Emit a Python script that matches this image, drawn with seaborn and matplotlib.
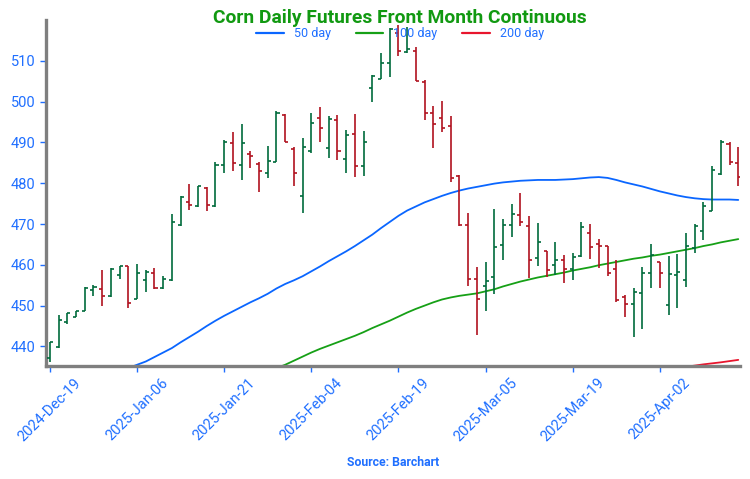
import matplotlib
matplotlib.use('Agg')
import matplotlib.pyplot as plt
import numpy as np
import pandas as pd
import seaborn as sns
from matplotlib.lines import Line2D

# OHLC values per trading day (index 0 = 2024-Dec-19)
opens = [437.2, 439.8, 446.1, 447.3, 448.7, 453.8, 454.1, 452.4, 457.5, 459.7,
         451.7, 456.3, 457.9, 454.2, 456.3, 469.7, 475.4, 474.3, 478.9, 474.3,
         484.5, 489.8, 484.5, 487.2, 484.7, 482.6, 485.2, 496.8, 488.3, 476.9,
         487.8, 495.9, 488.6, 495.5, 485.9, 492.1, 484.1, 503.3, 505.5, 509.4,
         516.8, 512.1, 512.5, 504.9, 497.2, 496.0, 493.9, 481.8, 469.8, 456.5,
         454.7, 457.1, 464.9, 469.8, 472.3, 469.6, 461.6, 463.3, 460.0, 461.2,
         458.9, 462.2, 467.8, 465.1, 464.5, 459.0, 452.1, 450.4, 453.2, 458.0,
         460.6, 450.2, 457.6, 456.3, 464.1, 468.4, 473.3, 482.3, 489.7, 485.0]
highs = [441.2, 447.6, 448.3, 448.8, 454.5, 455.0, 458.7, 459.1, 459.7, 459.8,
         460.3, 458.7, 459.3, 457.3, 472.5, 476.8, 479.8, 479.4, 479.0, 485.3,
         490.6, 492.5, 494.6, 487.8, 485.1, 489.2, 497.6, 497.0, 488.8, 491.1,
         497.3, 498.6, 496.5, 496.6, 493.1, 497.0, 492.7, 506.6, 512.0, 518.0,
         518.8, 518.4, 513.5, 505.3, 499.0, 500.2, 496.4, 482.0, 472.8, 459.4,
         460.6, 473.6, 471.2, 475.0, 477.6, 472.0, 470.2, 463.5, 465.6, 462.4,
         463.0, 470.4, 470.0, 466.3, 464.6, 461.1, 452.6, 454.3, 459.4, 465.1,
         460.8, 462.2, 462.7, 467.9, 470.0, 475.5, 484.1, 490.6, 490.2, 488.8]
lows = [436.1, 439.7, 445.5, 447.1, 448.7, 452.3, 449.9, 452.2, 456.5, 449.5,
        451.5, 453.4, 454.0, 454.0, 456.1, 469.5, 473.5, 474.1, 473.2, 474.1,
        482.6, 482.9, 480.7, 483.7, 477.8, 481.2, 485.2, 490.0, 479.4, 472.8,
        487.5, 490.0, 486.3, 485.7, 482.5, 481.6, 481.8, 499.8, 505.5, 506.0,
        511.2, 511.9, 505.0, 495.5, 488.6, 492.5, 480.2, 469.4, 454.9, 442.8,
        448.7, 452.9, 461.2, 466.8, 469.4, 456.7, 459.8, 456.9, 457.5, 455.5,
        456.2, 462.0, 461.4, 459.2, 457.3, 451.0, 447.3, 442.3, 444.2, 454.3,
        454.3, 447.7, 449.4, 454.5, 463.0, 466.1, 473.3, 482.1, 484.5, 479.3]
closes = [441.1, 446.5, 448.1, 448.7, 454.2, 454.6, 452.4, 458.9, 459.7, 450.7,
          457.9, 458.3, 454.2, 456.5, 470.5, 476.7, 474.6, 479.2, 474.6, 484.5,
          490.1, 484.9, 489.8, 486.7, 483.1, 485.5, 497.3, 490.2, 482.5, 488.8,
          494.7, 493.5, 495.7, 487.8, 491.9, 484.3, 490.2, 506.3, 509.4, 517.8,
          512.3, 512.9, 505.1, 497.3, 494.6, 493.5, 481.3, 469.8, 456.5, 451.6,
          456.1, 464.3, 469.8, 472.4, 470.6, 461.2, 465.7, 458.8, 461.2, 458.9,
          462.0, 469.2, 464.3, 464.7, 458.0, 451.3, 450.4, 453.4, 457.9, 462.4,
          458.1, 457.8, 458.2, 464.7, 469.4, 474.3, 483.3, 490.2, 485.2, 481.5]

# moving averages (first index where each line is drawn)
ma50_start = 9
ma50 = [434.7, 435.5, 436.3, 437.4, 438.5, 439.6, 441.0, 442.3, 443.6, 445.0,
        446.3, 447.5, 448.6, 449.7, 450.8, 451.8, 452.9, 454.2, 455.3, 456.2,
        457.2, 458.4, 459.6, 460.9, 462.1, 463.3, 464.6, 466.0, 467.4, 469.0,
        470.5, 472.0, 473.3, 474.3, 475.3, 476.1, 476.9, 477.6, 478.2, 478.7,
        479.1, 479.5, 479.9, 480.2, 480.4, 480.6, 480.7, 480.8, 480.8, 480.8,
        480.9, 481.0, 481.2, 481.4, 481.5, 481.3, 480.8, 480.2, 479.7, 479.2,
        478.6, 478.0, 477.5, 477.0, 476.6, 476.3, 476.1, 476.0, 476.0, 476.0,
        475.9]
ma100_start = 26
ma100 = [434.7, 435.5, 436.5, 437.5, 438.5, 439.4, 440.2, 441.0, 441.8, 442.6,
         443.5, 444.5, 445.4, 446.3, 447.3, 448.3, 449.2, 450.0, 450.8, 451.5,
         452.0, 452.4, 452.7, 453.0, 453.5, 454.0, 454.7, 455.3, 455.9, 456.4,
         456.9, 457.3, 457.7, 458.1, 458.6, 459.0, 459.4, 459.9, 460.3, 460.7,
         461.1, 461.5, 461.8, 462.2, 462.5, 462.9, 463.3, 463.7, 464.1, 464.6,
         465.0, 465.5, 465.9, 466.3]
ma200_start = 73
ma200 = [435.0, 435.3, 435.6, 435.85, 436.1, 436.4, 436.7]

tick_pos = [0, 10, 20, 30, 40, 50, 60, 70]
tick_labels = ['2024-Dec-19', '2025-Jan-06', '2025-Jan-21', '2025-Feb-04',
               '2025-Feb-19', '2025-Mar-05', '2025-Mar-19', '2025-Apr-02']

BLUE_TXT = '#1f6fff'
UP = '#006b3c'
DOWN = '#b0121f'

sns.set_theme(style='white')
plt.rcParams['font.family'] = ['Roboto', 'DejaVu Sans']

fig = plt.figure(figsize=(7.5, 4.79), dpi=100)
ax = fig.add_axes([46 / 750, 1 - 366 / 479, 694 / 750, 346 / 479])

df = pd.DataFrame({'o': opens, 'h': highs, 'l': lows, 'c': closes})
df['x'] = np.arange(len(df))
df['col'] = np.where(df['c'] >= df['o'], UP, DOWN)

ax.vlines(df['x'], df['l'], df['h'], colors=df['col'], lw=1.2, zorder=3)
ax.hlines(df['o'], df['x'] - 0.35, df['x'], colors=df['col'], lw=1.2, zorder=3)
ax.hlines(df['c'], df['x'], df['x'] + 0.35, colors=df['col'], lw=1.2, zorder=3)

ma_specs = [(ma50_start, ma50, '#0a66ff'),
            (ma100_start, ma100, '#16a016'),
            (ma200_start, ma200, '#e8152d')]
for start, vals, color in ma_specs:
    sns.lineplot(x=np.arange(start, start + len(vals)), y=vals, ax=ax,
                 color=color, lw=1.3, zorder=2)

ax.set_xlim(-0.45, 79.2)
ax.set_ylim(435.2, 520.0)
ax.set_yticks([440, 450, 460, 470, 480, 490, 500, 510])
ax.set_xticks(tick_pos)
ax.set_xticklabels(tick_labels, rotation=45, ha='center')

for side in ['top', 'right']:
    ax.spines[side].set_visible(False)
for side in ['left', 'bottom']:
    ax.spines[side].set_color('#7f7f7f')
    ax.spines[side].set_linewidth(2.4)

ax.tick_params(axis='both', colors=BLUE_TXT, labelsize=10.5, length=4,
               width=1, direction='out', bottom=True, left=True)
ax.tick_params(axis='x', pad=3)

fig.text(400 / 750, 1 - 18 / 479, 'Corn Daily Futures Front Month Continuous',
         ha='center', va='center', color='#119911', fontsize=13.9,
         fontweight='bold')
fig.text(393 / 750, 1 - 463 / 479, 'Source: Barchart', ha='center',
         va='center', color=BLUE_TXT, fontsize=8.8, fontweight='bold')

handles = [Line2D([], [], color=c, lw=1.6) for _, _, c in ma_specs]
leg = fig.legend(handles, ['50 day', '100 day', '200 day'], loc='center',
                 bbox_to_anchor=(400 / 750, 1 - 34 / 479), ncol=3,
                 frameon=False, fontsize=9, handlelength=2.2,
                 handletextpad=0.8, columnspacing=2.0)
for t in leg.get_texts():
    t.set_color(BLUE_TXT)

fig.savefig('out.png', dpi=100)
